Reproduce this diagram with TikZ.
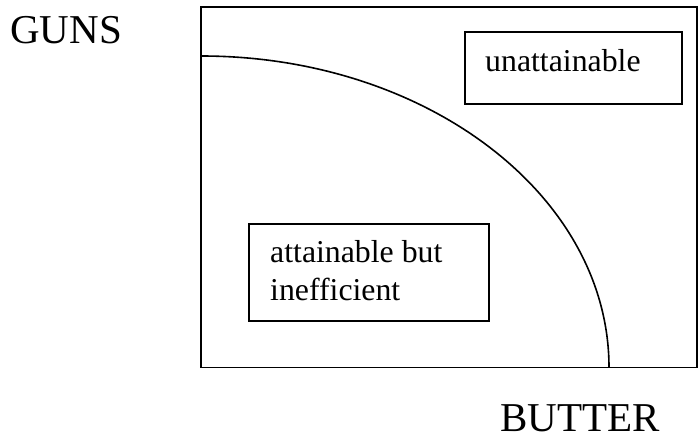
\documentclass[tikz,border=0pt]{standalone}
\usepackage{fontspec}
\setmainfont{Liberation Serif}
\begin{document}
\begin{tikzpicture}[x=1pt,y=1pt,
  frame/.style={draw=black, line width=1.6pt},
  box/.style={draw=black, line width=1.6pt, rectangle, inner sep=0pt, anchor=north west},
  boxtext/.style={font=\fontsize{31.8}{38}\selectfont, inner sep=0pt, anchor=base west},
  axistext/.style={font=\fontsize{41}{46}\selectfont, inner sep=0pt, anchor=base west}]
\useasboundingbox (0,0) rectangle (698,441);
% outer frame
\coordinate (fsw) at (201,73.5);
\coordinate (fne) at (697,434);
\draw[frame] (fsw) rectangle (fne);
% frontier curve
\coordinate (top) at (201,385);
\coordinate (bot) at (609,73.5);
\draw[line width=1.6pt] (top) arc[start angle=90, end angle=0, x radius=408, y radius=311.5];
% boxes
\node[box, minimum width=217pt, minimum height=72pt] (unatt) at (464,410) {};
\node[boxtext] (unatttext) at (485,369) {unattainable};
\node[box, minimum width=240pt, minimum height=97pt] (att) at (248,218) {};
\node[boxtext] (atttext1) at (270,178) {attainable but};
\node[boxtext] (atttext2) at (270,140) {inefficient};
% axis labels
\node[axistext] (guns) at (10,397) {GUNS};
\node[axistext] (butter) at (500,9) {BUTTER};
\end{tikzpicture}
\end{document}
